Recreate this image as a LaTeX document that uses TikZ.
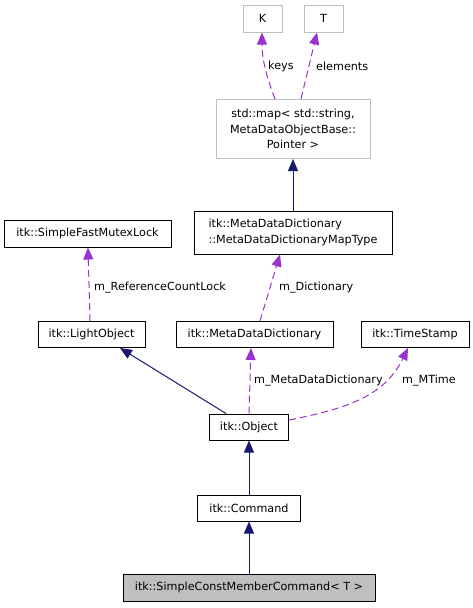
\documentclass[tikz,border=0pt]{standalone}
\usepackage{fontspec}
\setmainfont{DejaVu Sans}
\usetikzlibrary{arrows.meta}
\definecolor{dep}{HTML}{9A32CD}
\definecolor{inh}{HTML}{191970}
\definecolor{greyb}{HTML}{BFBFBF}
\tikzset{
  box/.style={draw=black, line width=1pt, fill=white, inner sep=0pt, font=\fontsize{11.2}{15.5}\selectfont},
  gbox/.style={box, draw=greyb},
  depline/.style={draw=dep, line width=1pt, dash pattern=on 7pt off 4pt, -{Triangle[length=12pt,width=10pt,fill=dep]}},
  inhline/.style={draw=inh, line width=1pt, -{Triangle[length=12pt,width=10pt,fill=inh]}},
  lbl/.style={anchor=west, inner sep=0pt, font=\fontsize{11.2}{13}\selectfont}
}
\begin{document}
\begin{tikzpicture}[x=1pt,y=-1pt]
\useasboundingbox (0,0) rectangle (473,608);
\node[gbox, minimum width=39pt, minimum height=27pt] (K) at (262.5,18.5) {K};
\node[gbox, minimum width=39pt, minimum height=27pt] (T) at (323.5,18.5) {T};
\node[gbox, minimum width=154pt, minimum height=59pt, align=center] (map) at (293,129) {std::map\textless{} std::string,\\MetaDataObjectBase::\\Pointer \textgreater{}};
\node[box, minimum width=198pt, minimum height=43pt, align=left] (mt) at (293,232.5) {itk::MetaDataDictionary\\::MetaDataDictionaryMapType};
\node[box, minimum width=167pt, minimum height=27pt] (sfml) at (87.5,233.5) {itk::SimpleFastMutexLock};
\node[box, minimum width=107pt, minimum height=26pt] (lo) at (91.5,334.5) {itk::LightObject};
\node[box, minimum width=157pt, minimum height=26pt] (mdd) at (254.5,334.5) {itk::MetaDataDictionary};
\node[box, minimum width=108pt, minimum height=26pt] (ts) at (415,334.5) {itk::TimeStamp};
\node[box, minimum width=79pt, minimum height=26pt] (obj) at (249,427) {itk::Object};
\node[box, minimum width=103pt, minimum height=26pt] (cmd) at (249,508) {itk::Command};
\node[box, fill=greyb, minimum width=252pt, minimum height=27pt] (scmc) at (249,587.5) {itk::SimpleConstMemberCommand\textless{} T \textgreater{}};

\draw[depline] ([xshift=-18pt]map.north) .. controls (267,78) and (262,60) .. ([xshift=-0.5pt]K.south);
\draw[depline] ([xshift=8pt]map.north) -- ([xshift=-6.5pt]T.south);
\draw[inhline] (mt.north) -- (map.south);
\draw[depline] ([xshift=5.5pt]mdd.north) -- ([xshift=-13pt]mt.south);
\draw[depline] ([xshift=-1.5pt]lo.north) -- ([xshift=0.5pt]sfml.south);
\draw[inhline] ([xshift=-23pt]obj.north) -- ([xshift=28.5pt]lo.south);
\draw[depline] (obj.north) -- ([xshift=-3.5pt]mdd.south);
\draw[depline] ([yshift=7pt]obj.east) .. controls (350,408) and (385,395) .. ([xshift=-7pt]ts.south);
\draw[inhline] (cmd.north) -- (obj.south);
\draw[inhline] (scmc.north) -- (cmd.south);

\node[lbl] (lkeys) at (268,66) {keys};
\node[lbl] (lel) at (316,66) {elements};
\node[lbl] (ldict) at (279,288) {m\_Dictionary};
\node[lbl] (lrc) at (94,288) {m\_ReferenceCountLock};
\node[lbl] (lmdd) at (254,381) {m\_MetaDataDictionary};
\node[lbl] (lmt) at (402,381) {m\_MTime};
\end{tikzpicture}
\end{document}
